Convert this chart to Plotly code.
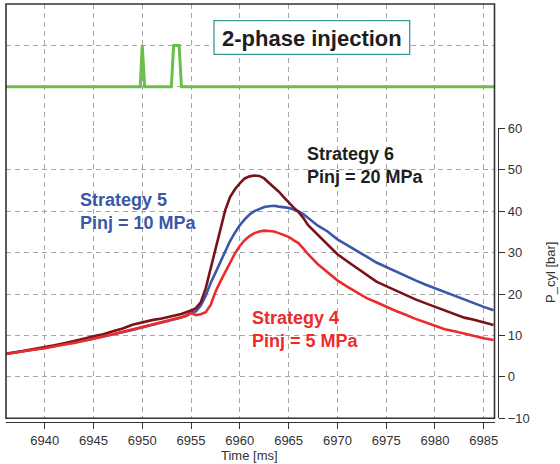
import plotly.graph_objects as go

# ---------------- data ----------------
time_ms = [6936, 6937, 6938, 6939, 6940, 6941, 6942, 6943, 6944, 6945,
           6946, 6947, 6948, 6949, 6950, 6951, 6952, 6953, 6954,
           6954.5, 6955, 6955.5, 6956, 6956.5, 6957, 6957.5, 6958, 6958.5,
           6959, 6959.5, 6960, 6960.5, 6961, 6961.5, 6962, 6962.5, 6963,
           6963.5, 6964, 6964.5, 6965, 6965.5, 6966, 6966.5, 6967,
           6968, 6969, 6970, 6971, 6972, 6973, 6974, 6975, 6976, 6977,
           6978, 6979, 6980, 6981, 6982, 6983, 6984, 6985, 6986]

p_strategy4 = [5.5, 5.9, 6.2, 6.6, 6.9, 7.4, 7.8, 8.2, 8.7, 9.3,
               9.7, 10.3, 10.9, 11.5, 12.1, 12.7, 13.3, 13.9, 14.4,
               14.7, 15.4, 14.9, 15.1, 15.6, 17.3, 20.5, 23.0, 25.3,
               27.8, 29.8, 31.6, 33.0, 34.0, 34.7, 35.1, 35.3, 35.2,
               35.1, 34.7, 34.3, 33.8, 33.0, 32.3, 31.0, 29.6,
               27.2, 25.3, 23.3, 21.8, 20.3, 19.0, 18.0, 16.9, 15.9, 15.0,
               14.0, 13.2, 12.4, 11.5, 11.0, 10.4, 9.8, 9.3, 8.9]

p_strategy5 = [5.6, 5.9, 6.3, 6.6, 7.0, 7.4, 7.8, 8.3, 8.7, 9.2,
               9.7, 10.2, 10.8, 11.3, 11.9, 12.5, 13.2, 13.8, 14.3,
               14.8, 15.5, 15.8, 17.2, 19.5, 22.6, 25.1, 27.8, 30.2,
               32.8, 34.8, 36.6, 38.0, 39.2, 40.0, 40.6, 41.0, 41.2,
               41.3, 41.1, 41.0, 40.8, 40.4, 40.0, 39.3, 38.4,
               36.5, 35.1, 33.2, 31.8, 30.3, 29.0, 27.6, 26.5, 25.4, 24.3,
               23.3, 22.3, 21.4, 20.5, 19.5, 18.6, 17.8, 16.9, 16.1]

p_strategy6 = [5.5, 5.9, 6.4, 6.8, 7.2, 7.6, 8.1, 8.6, 9.2, 9.8,
               10.3, 11.0, 11.7, 12.6, 13.2, 13.7, 14.1, 14.6, 15.2,
               15.6, 16.0, 16.6, 18.0, 21.3, 26.0, 31.0, 35.7, 40.2,
               43.4, 45.3, 46.7, 47.9, 48.4, 48.6, 48.5, 47.9, 46.8,
               45.8, 44.7, 43.4, 42.1, 40.9, 39.8, 38.4, 36.6,
               34.2, 32.0, 29.6, 27.9, 26.2, 24.6, 23.0, 21.9, 20.8, 19.7,
               18.7, 17.8, 16.9, 16.1, 15.1, 14.3, 13.8, 13.1, 12.5]

inj_time = [6936, 6949.8, 6950.0, 6950.25, 6952.98, 6953.22, 6953.78, 6954.02, 6986.1]
inj_signal = [0, 0, 1, 0, 0, 1, 1, 0, 0]

x_ticks = [6940, 6945, 6950, 6955, 6960, 6965, 6970, 6975, 6980, 6985]
y_ticks = [-10, 0, 10, 20, 30, 40, 50, 60]

# ---------------- styling ----------------
FONT = "Liberation Sans, Arial, sans-serif"
RED = "#ee2b2b"
BLUE = "#3b58a8"
DARK = "#7a1219"
GREEN = "#6abf4a"
GRID = "#a6a6a6"
AXIS = "#333333"

W, H = 560, 464
L, R, T, B = 6, 62, 4, 42
PW = W - L - R
PH = H - T - B


def px(xp):
    return (xp - L) / PW


def py(yp):
    return (H - B - yp) / PH


X_END = px(494.5)
Y_LOW = py(418.3)
Y_MID = py(128.3)

fig = go.Figure()
fig.add_trace(go.Scatter(x=time_ms, y=p_strategy5, mode="lines",
                         line=dict(color=BLUE, width=2.6), name="Strategy 5"))
fig.add_trace(go.Scatter(x=time_ms, y=p_strategy6, mode="lines",
                         line=dict(color=DARK, width=2.6), name="Strategy 6"))
fig.add_trace(go.Scatter(x=time_ms, y=p_strategy4, mode="lines",
                         line=dict(color=RED, width=2.6), name="Strategy 4"))
fig.add_trace(go.Scatter(x=inj_time, y=inj_signal, mode="lines", yaxis="y2",
                         line=dict(color=GREEN, width=3), name="Injection"))

fig.update_layout(
    template="none",
    width=W, height=H,
    margin=dict(l=L, r=R, t=T, b=B, pad=0, autoexpand=False),
    paper_bgcolor="white", plot_bgcolor="white",
    showlegend=False,
    font=dict(family=FONT, size=13, color=AXIS),
    xaxis=dict(
        domain=[0, X_END], range=[6936.04, 6986.1],
        anchor="free", position=0, automargin=False,
        tickvals=x_ticks, ticks="outside", ticklen=6, tickcolor=AXIS,
        showline=True, linecolor=AXIS, linewidth=1.3,
        showgrid=True, gridcolor=GRID, griddash="5px,4px", gridwidth=1,
        zeroline=False, tickfont=dict(size=13, color=AXIS),
    ),
    yaxis=dict(
        domain=[Y_LOW, Y_MID], range=[-10, 60],
        side="right", anchor="free", position=1, automargin=False,
        tickvals=y_ticks, ticks="outside", ticklen=6, tickcolor=AXIS,
        showline=True, linecolor=AXIS, linewidth=1.3,
        showgrid=True, gridcolor=GRID, griddash="5px,4px", gridwidth=1,
        zeroline=False, tickfont=dict(size=13, color=AXIS),
    ),
    yaxis2=dict(
        domain=[Y_MID, 1], range=[-1, 2], automargin=False,
        anchor="x", tickvals=[0, 1], showticklabels=False, ticks="",
        showline=False, zeroline=False,
        showgrid=True, gridcolor=GRID, griddash="5px,4px", gridwidth=1,
    ),
)

# frame around the plot area
fig.add_shape(type="rect", xref="paper", yref="paper",
              x0=0, x1=X_END, y0=Y_LOW, y1=1,
              line=dict(color=AXIS, width=1.6), layer="above")

# "2-phase injection" box
fig.add_shape(type="rect", xref="paper", yref="paper",
              x0=px(214), x1=px(409.7), y0=py(54.3), y1=py(20.7),
              line=dict(color="#3a9a9a", width=1.3), fillcolor="white",
              layer="above")
fig.add_annotation(xref="paper", yref="paper", x=px(312), y=py(38.5),
                   text="<b>2-phase injection</b>", showarrow=False,
                   xanchor="center", yanchor="middle",
                   font=dict(family=FONT, size=22, color="#1e1e1e"))

# strategy labels
labels = [
    ("<b>Strategy 5<br>Pinj = 10 MPa</b>", 78, 211.7, BLUE),
    ("<b>Strategy 6<br>Pinj = 20 MPa</b>", 305, 165.3, "#1e1e1e"),
    ("<b>Strategy 4<br>Pinj = 5 MPa</b>", 250, 329, RED),
]
for txt, xl, ym, col in labels:
    fig.add_annotation(xref="paper", yref="paper", x=px(xl), y=py(ym),
                       text=txt, showarrow=False, align="left",
                       xanchor="left", yanchor="middle",
                       font=dict(family=FONT, size=18, color=col))

# axis titles
fig.add_annotation(xref="paper", yref="paper", x=px(249), y=py(455),
                   text="Time [ms]", showarrow=False,
                   xanchor="center", yanchor="middle",
                   font=dict(family=FONT, size=13, color=AXIS))
fig.add_annotation(xref="paper", yref="paper", x=px(550), y=py(273),
                   text="P_cyl [bar]", showarrow=False, textangle=-90,
                   xanchor="center", yanchor="middle",
                   font=dict(family=FONT, size=13, color=AXIS))

fig.write_html(
    "out.html",
    config={"displayModeBar": False},
    post_script="document.body.style.margin='0px';document.body.style.overflow='hidden';",
)
